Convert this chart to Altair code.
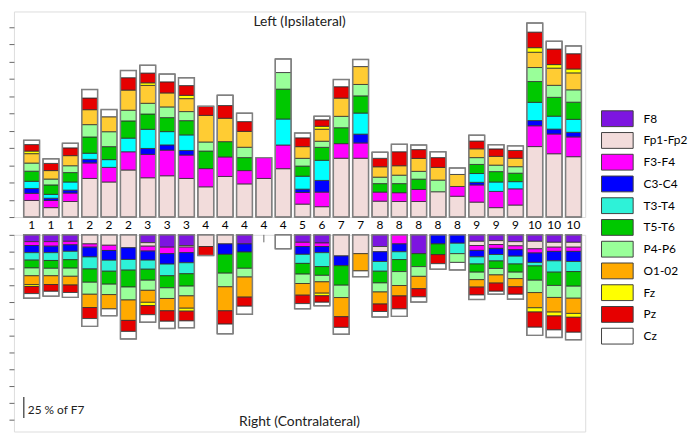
import altair as alt
import pandas as pd

# ---- categories (x tick labels) ----
LABELS = ["1", "1", "1", "2", "2", "2", "3", "3", "3", "4", "4", "4", "4", "4", "5",
          "6", "7", "7", "8", "8", "8", "8", "8", "9", "9", "9", "10", "10", "10"]

# ---- leads (legend order) and colours ----
LEADS = ["F8", "Fp1-Fp2", "F3-F4", "C3-C4", "T3-T4", "T5-T6", "P4-P6", "O1-02", "Fz", "Pz", "Cz"]
COLORS = ["#7D15E0", "#F2DCDB", "#FF00FF", "#0000FF", "#2EF2D8", "#00C800",
          "#99FF99", "#FFAA00", "#FFFF00", "#E60000", "#FFFFFF"]
LEFT_T34_COLOR = "#00FFFF"
LEFT_O12_COLOR = "#FFCC33"

# ---- Left (ipsilateral) values, % of F7, stacked bottom -> top ----
L_FP = [19.2, 10.9, 18.0, 44.7, 40.6, 54.5, 45.5, 47.8, 44.7, 35.0, 47.0, 38.4, 44.7, 56.0, 15.0,
        12.0, 68.1, 68.1, 18.4, 18.0, 18.0, 29.3, 24.1, 17.3, 10.9, 13.9, 81.6, 73.3, 69.9]
L_F34 = [8.3, 8.3, 9.8, 18.0, 16.9, 21.1, 27.1, 29.7, 27.1, 21.1, 22.6, 15.4, 24.1, 27.4, 13.5,
         16.9, 16.9, 17.7, 10.5, 10.2, 13.9, 0, 11.3, 19.9, 18.8, 18.8, 24.1, 22.9, 22.9]
L_C34 = [5.6, 2.6, 3.4, 4.1, 0, 0, 6.8, 6.0, 5.3, 0, 0, 0, 0, 0, 3.8,
         13.5, 0, 10.2, 0, 0, 0, 0, 0, 3.0, 0, 0, 6.0, 5.6, 5.3]
L_T34 = [8.3, 4.5, 9.4, 7.1, 9.0, 15.8, 22.2, 15.4, 18.0, 0, 0, 0, 0, 30.1, 15.0,
         23.3, 0, 24.4, 0, 0, 0, 0, 0, 10.2, 10.9, 8.3, 21.1, 15.0, 15.0]
L_T56 = [11.7, 10.9, 10.9, 18.8, 15.0, 19.9, 17.7, 16.2, 16.5, 20.3, 17.7, 15.0, 0, 34.6, 11.7,
         15.0, 18.4, 19.9, 9.8, 10.5, 12.0, 0, 0, 10.5, 12.0, 9.8, 24.1, 21.8, 19.9]
L_P46 = [9.4, 6.8, 7.9, 14.3, 17.3, 12.4, 12.4, 12.4, 10.5, 10.5, 0, 12.0, 0, 19.2, 9.0,
         7.1, 13.2, 13.2, 7.5, 9.8, 9.0, 13.5, 0, 7.9, 7.5, 7.5, 16.2, 13.9, 14.3]
L_O12 = [10.9, 9.8, 11.7, 17.3, 17.3, 23.3, 20.7, 16.2, 15.0, 30.8, 27.1, 18.4, 0, 0, 13.5,
         13.9, 21.1, 20.7, 12.0, 10.9, 15.0, 14.7, 13.9, 10.2, 10.2, 9.8, 17.7, 19.9, 19.6]
L_FZ = [3.0, 0, 0, 0, 0, 0, 3.0, 0, 3.8, 0, 0, 0, 0, 0, 0,
        3.4, 0, 0, 0, 0, 0, 0, 0, 0, 0, 0, 5.3, 4.1, 4.5]
L_PZ = [7.5, 8.3, 9.0, 13.5, 0, 14.3, 11.3, 12.8, 11.3, 10.5, 14.7, 11.3, 0, 0, 10.2,
        7.5, 13.2, 0, 9.8, 16.2, 10.2, 11.3, 0, 9.0, 8.6, 9.0, 18.0, 18.0, 17.7]
L_CZ = [4.9, 5.3, 5.3, 9.8, 8.3, 8.3, 9.0, 9.0, 9.0, 0, 12.0, 9.8, 0, 15.8, 5.6,
        4.1, 8.3, 8.3, 7.1, 8.6, 5.3, 6.8, 7.5, 6.8, 4.9, 5.3, 10.5, 9.0, 9.0]

# ---- Right (contralateral) values, % of F7, stacked top -> bottom ----
R_F8 = [8.1, 8.1, 7.7, 0, 0, 0, 9.3, 14.7, 12.7, 0, 0, 10.8, 0, 0, 8.9,
        9.7, 0, 0, 13.9, 0, 22.4, 0, 0, 7.7, 6.9, 8.1, 7.7, 8.9, 8.9]
R_FP = [0, 0, 0, 10.8, 12.4, 15.4, 4.2, 0, 1.9, 13.9, 10.8, 0, 0, 0, 0,
        0, 25.1, 22.4, 6.2, 0, 0, 0, 0, 5.0, 4.6, 5.0, 8.9, 5.8, 5.8]
R_F34 = [4.6, 5.4, 4.2, 3.9, 6.2, 0, 5.8, 7.7, 6.6, 0, 0, 0, 0, 0, 5.0,
         4.2, 0, 0, 0, 10.8, 0, 0, 0, 5.8, 4.6, 4.6, 5.0, 5.0, 5.0]
R_C34 = [8.5, 7.7, 7.7, 11.6, 11.6, 13.9, 10.8, 12.4, 12.0, 0, 12.4, 9.7, 0, 0, 9.3,
         7.3, 11.6, 0, 11.6, 9.3, 0, 10.8, 10.0, 7.7, 7.3, 7.7, 11.2, 11.2, 12.0]
R_T34 = [8.9, 9.3, 10.0, 14.3, 13.1, 12.7, 10.8, 13.9, 13.1, 0, 0, 0, 0, 0, 10.8,
         16.6, 0, 0, 11.6, 9.3, 0, 0, 12.4, 8.5, 7.7, 9.3, 4.2, 13.5, 12.0]
R_T56 = [9.3, 9.3, 10.0, 15.8, 15.4, 20.1, 13.1, 14.3, 14.7, 0, 22.4, 19.3, 0, 0, 12.7,
         10.4, 23.2, 0, 13.9, 14.3, 15.4, 12.7, 0, 9.7, 8.9, 9.7, 17.0, 15.8, 17.4]
R_P46 = [9.3, 8.9, 9.7, 14.3, 12.4, 15.4, 12.0, 12.7, 11.6, 0, 16.2, 10.4, 0, 0, 11.2,
         7.7, 14.7, 0, 10.8, 16.6, 11.6, 0, 10.4, 8.9, 7.7, 7.7, 14.7, 14.3, 14.3]
R_O12 = [10.4, 10.4, 10.4, 15.8, 17.0, 24.3, 14.3, 14.7, 14.7, 0, 28.6, 23.9, 0, 0, 13.9,
         13.5, 22.8, 20.5, 14.3, 12.4, 14.7, 0, 0, 8.9, 9.7, 9.7, 18.1, 17.4, 18.1]
R_FZ = [2.3, 0, 0, 0, 0, 0, 3.9, 0, 3.5, 0, 0, 0, 0, 0, 0,
        3.1, 0, 0, 0, 0, 0, 0, 0, 0, 0, 0, 5.0, 4.6, 4.6]
R_PZ = [8.5, 8.1, 8.9, 13.1, 0, 13.1, 10.8, 12.4, 11.6, 10.8, 15.8, 10.8, 0, 0, 10.0,
        7.7, 12.7, 0, 8.9, 15.4, 9.7, 10.8, 0, 9.3, 9.7, 8.9, 18.1, 16.6, 17.8]
R_CZ = [5.4, 5.8, 5.8, 9.3, 8.1, 8.9, 8.9, 8.5, 8.1, 0, 11.6, 9.7, 0, 16.6, 6.2,
        4.2, 8.1, 6.9, 6.6, 8.9, 6.2, 6.6, 8.9, 5.4, 3.5, 5.8, 9.7, 8.9, 8.9]

# thin stub drawn under one bar on the right side
STUB_BAR = [12]
STUB_LEN = [8.9]

SCALE_BAR = 25  # "25 % of F7"

# ---- build long tables ----
left_series = [("Fp1-Fp2", L_FP), ("F3-F4", L_F34), ("C3-C4", L_C34), ("T3-T4", L_T34),
               ("T5-T6", L_T56), ("P4-P6", L_P46), ("O1-02", L_O12), ("Fz", L_FZ),
               ("Pz", L_PZ), ("Cz", L_CZ)]
right_series = [("F8", R_F8), ("Fp1-Fp2", R_FP), ("F3-F4", R_F34), ("C3-C4", R_C34),
                ("T3-T4", R_T34), ("T5-T6", R_T56), ("P4-P6", R_P46), ("O1-02", R_O12),
                ("Fz", R_FZ), ("Pz", R_PZ), ("Cz", R_CZ)]
LEFT_KEY = {"T3-T4": "T3-T4 (L)", "O1-02": "O1-02 (L)"}


def build(series, left):
    rows = []
    for k, (lead, vals) in enumerate(series):
        for i, v in enumerate(vals):
            if v > 0:
                key = LEFT_KEY.get(lead, lead) if left else lead
                rows.append({"bar": i, "lead": lead, "key": key, "k": k, "value": v})
    return pd.DataFrame(rows)


df_left = build(left_series, True)
df_right = build(right_series, False)

N = len(LABELS)
W = 578
H1 = 208
H2 = 199

color_scale = alt.Scale(domain=LEADS + ["T3-T4 (L)", "O1-02 (L)"],
                        range=COLORS + [LEFT_T34_COLOR, LEFT_O12_COLOR])
legend = alt.Legend(orient="none", legendX=602, legendY=100, title=None, values=LEADS,
                    symbolType="M-2,-1H2V1H-2Z", symbolSize=256, symbolStrokeColor="#404040",
                    symbolStrokeWidth=1, symbolOpacity=1, labelFont="Lato", labelFontSize=12,
                    labelColor="black", labelOffset=18, rowPadding=1, padding=0)

label_expr = "[" + ",".join("'%s'" % s for s in LABELS) + "][datum.value]"
x_scale = alt.Scale(domain=list(range(N)), paddingInner=0.18, paddingOuter=0.35, align=0.72)

y_axis = alt.Axis(values=list(range(0, 221, 20)), labels=False, domain=False, ticks=True,
                  tickSize=5, tickColor="#666666", grid=False, title=None)

y_up = alt.Scale(domain=[0, 238], nice=False, zero=True)
y_dn = alt.Scale(domain=[0, 234], nice=False, zero=True, reverse=True)

# ---- upper panel ----
x_up = alt.X("bar:O", scale=x_scale,
             axis=alt.Axis(title=None, ticks=False, domain=False, labelAngle=0,
                           labelExpr=label_expr, labelFont="Lato", labelFontSize=12,
                           labelColor="black", labelPadding=3))
seg_up = alt.Chart(df_left).mark_bar(stroke="#303030", strokeWidth=0.8).encode(
    x=x_up,
    y=alt.Y("value:Q", stack="zero", scale=y_up, axis=y_axis),
    color=alt.Color("key:N", scale=color_scale, legend=legend),
    order=alt.Order("k:Q", sort="ascending"),
)
box_up = alt.Chart(df_left).mark_bar(fillOpacity=0, stroke="#808080", strokeWidth=1.5).encode(
    x=x_up, y=alt.Y("sum(value):Q", scale=y_up, axis=y_axis))
title_up = alt.Chart(pd.DataFrame({"t": ["Left (Ipsilateral)"]})).mark_text(
    font="Lato", fontSize=14, color="#222222", baseline="middle").encode(
    x=alt.value(W / 2), y=alt.value(11), text="t:N")
upper = alt.layer(seg_up, box_up, title_up).properties(width=W, height=H1)

# ---- lower panel ----
x_dn = alt.X("bar:O", scale=x_scale, axis=None)
seg_dn = alt.Chart(df_right).mark_bar(stroke="#303030", strokeWidth=0.8).encode(
    x=x_dn,
    y=alt.Y("value:Q", stack="zero", scale=y_dn, axis=y_axis),
    color=alt.Color("key:N", scale=color_scale, legend=legend),
    order=alt.Order("k:Q", sort="ascending"),
)
box_dn = alt.Chart(df_right).mark_bar(fillOpacity=0, stroke="#808080", strokeWidth=1.5).encode(
    x=x_dn, y=alt.Y("sum(value):Q", scale=y_dn, axis=y_axis))
stub = alt.Chart(pd.DataFrame({"bar": STUB_BAR, "len": STUB_LEN})).mark_rule(
    color="#666666", strokeWidth=1).encode(
    x=x_dn, y=alt.Y("len:Q", scale=y_dn, axis=y_axis), y2=alt.datum(0))
sb = pd.DataFrame({"y1": [193], "y2": [193 + SCALE_BAR], "ym": [193 + SCALE_BAR * 0.62],
                   "t": ["25 % of F7"]})
scale_rule = alt.Chart(sb).mark_rule(color="#333333", strokeWidth=1.2).encode(
    x=alt.value(10), y=alt.Y("y1:Q", scale=y_dn, axis=y_axis), y2="y2:Q")
scale_text = alt.Chart(sb).mark_text(font="Lato", fontSize=12, align="left",
                                     baseline="middle", color="#222222").encode(
    x=alt.value(14), y=alt.Y("ym:Q", scale=y_dn, axis=y_axis), text="t:N")
title_dn = alt.Chart(pd.DataFrame({"t": ["Right (Contralateral)"]})).mark_text(
    font="Lato", fontSize=14, color="#222222", baseline="middle").encode(
    x=alt.value(W / 2), y=alt.value(H2 - 10), text="t:N")
lower = alt.layer(seg_dn, box_dn, stub, scale_rule, scale_text, title_dn).properties(
    width=W, height=H2)

chart = alt.vconcat(upper, lower, spacing=1).resolve_scale(
    y="independent", x="independent", color="shared"
).configure_view(stroke="#808080", strokeWidth=1).configure(
    padding=0, background="white")

chart.save("out.html", embed_options={"renderer": "svg", "actions": False})
